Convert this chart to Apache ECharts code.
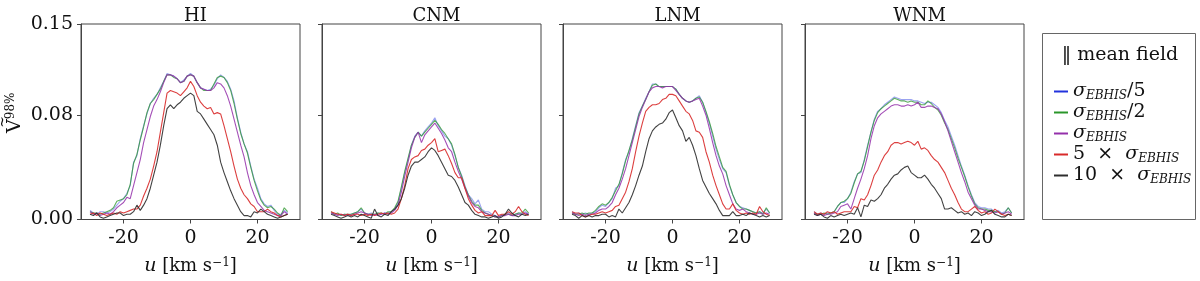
<!DOCTYPE html>
<html><head><meta charset="utf-8">
<script src="https://cdn.jsdelivr.net/npm/echarts@6/dist/echarts.min.js"></script>
<style>html,body{margin:0;padding:0;background:#fff}#c{width:1200px;height:281px}</style>
</head><body><div id="c"></div>
<script>
// ---- data ----
const velocities = [-30,-29,-28,-27,-26,-25,-24,-23,-22,-21,-20,-19,-18,-17,-16,-15,-14,-13,-12,-11,-10,-9,-8,-7,-6,-5,-4,-3,-2,-1,0,1,2,3,4,5,6,7,8,9,10,11,12,13,14,15,16,17,18,19,20,21,22,23,24,25,26,27,28,29];
const panelTitles = ['HI', 'CNM', 'LNM', 'WNM'];
const seriesNames = ['σEBHIS/5', 'σEBHIS/2', 'σEBHIS', '5 × σEBHIS', '10 × σEBHIS'];
const xTickValues = [-20, 0, 20];
const yTickValues = [0, 0.08, 0.15];
const legendTitle = '‖ mean field';

const hiSigma5  = [0.007,0.005,0.004,0.006,0.006,0.005,0.006,0.008,0.011,0.014,0.016,0.020,0.026,0.044,0.049,0.062,0.072,0.081,0.089,0.093,0.096,0.101,0.106,0.112,0.111,0.110,0.108,0.105,0.107,0.110,0.112,0.110,0.105,0.101,0.100,0.099,0.100,0.103,0.108,0.111,0.109,0.106,0.100,0.091,0.078,0.067,0.058,0.052,0.041,0.031,0.024,0.016,0.012,0.010,0.011,0.007,0.004,0.004,0.007,0.005];
const hiSigma2  = [0.006,0.005,0.005,0.004,0.005,0.006,0.007,0.009,0.014,0.015,0.016,0.019,0.027,0.043,0.050,0.061,0.071,0.082,0.089,0.092,0.096,0.100,0.106,0.111,0.111,0.109,0.108,0.105,0.106,0.110,0.111,0.110,0.105,0.101,0.099,0.099,0.099,0.104,0.109,0.110,0.109,0.105,0.099,0.089,0.077,0.066,0.058,0.051,0.040,0.030,0.022,0.015,0.011,0.009,0.010,0.008,0.005,0.003,0.009,0.006];
const hiSigma1  = [0.006,0.004,0.005,0.003,0.004,0.005,0.004,0.006,0.009,0.011,0.013,0.017,0.016,0.026,0.036,0.046,0.059,0.069,0.079,0.087,0.092,0.098,0.105,0.111,0.111,0.110,0.108,0.105,0.106,0.110,0.111,0.110,0.105,0.101,0.100,0.099,0.099,0.101,0.105,0.104,0.101,0.095,0.087,0.077,0.067,0.057,0.048,0.036,0.026,0.019,0.013,0.010,0.007,0.006,0.005,0.004,0.003,0.003,0.006,0.004];
const hiTimes5  = [0.004,0.005,0.003,0.005,0.004,0.003,0.004,0.005,0.004,0.006,0.005,0.006,0.007,0.008,0.008,0.011,0.018,0.024,0.031,0.041,0.052,0.067,0.082,0.097,0.099,0.098,0.097,0.095,0.098,0.101,0.106,0.102,0.095,0.090,0.087,0.085,0.086,0.081,0.082,0.081,0.072,0.062,0.052,0.041,0.031,0.024,0.019,0.016,0.012,0.010,0.006,0.006,0.006,0.008,0.006,0.005,0.003,0.002,0.003,0.004];
const hiTimes10 = [0.004,0.003,0.005,0.002,0.001,0.002,0.003,0.004,0.005,0.005,0.003,0.004,0.004,0.006,0.011,0.007,0.011,0.016,0.024,0.034,0.044,0.057,0.072,0.085,0.088,0.085,0.088,0.090,0.093,0.095,0.097,0.095,0.083,0.081,0.077,0.073,0.069,0.065,0.057,0.044,0.036,0.029,0.022,0.016,0.011,0.006,0.003,0.003,0.002,0.006,0.005,0.008,0.006,0.004,0.003,0.002,0.001,0.002,0.003,0.004];

const cnmSigma5  = [0.005,0.004,0.004,0.003,0.004,0.003,0.004,0.005,0.006,0.008,0.005,0.004,0.005,0.003,0.005,0.004,0.005,0.005,0.006,0.008,0.013,0.024,0.036,0.046,0.057,0.064,0.067,0.064,0.068,0.071,0.074,0.078,0.072,0.068,0.064,0.062,0.057,0.049,0.040,0.034,0.026,0.019,0.016,0.012,0.015,0.008,0.006,0.006,0.004,0.003,0.002,0.003,0.004,0.005,0.003,0.004,0.005,0.004,0.006,0.004];
const cnmSigma2  = [0.006,0.004,0.005,0.003,0.004,0.004,0.004,0.005,0.006,0.009,0.005,0.004,0.004,0.004,0.005,0.005,0.004,0.006,0.006,0.009,0.014,0.025,0.037,0.047,0.057,0.063,0.067,0.064,0.067,0.070,0.073,0.076,0.073,0.069,0.066,0.062,0.058,0.050,0.040,0.033,0.025,0.019,0.014,0.011,0.011,0.007,0.005,0.004,0.003,0.002,0.002,0.003,0.004,0.004,0.003,0.004,0.005,0.005,0.008,0.005];
const cnmSigma1  = [0.005,0.004,0.003,0.004,0.003,0.004,0.003,0.004,0.005,0.006,0.005,0.004,0.003,0.004,0.003,0.004,0.005,0.004,0.005,0.007,0.011,0.021,0.033,0.044,0.055,0.063,0.067,0.059,0.065,0.068,0.071,0.074,0.070,0.066,0.061,0.055,0.052,0.044,0.037,0.031,0.024,0.018,0.013,0.010,0.009,0.006,0.005,0.004,0.003,0.002,0.002,0.003,0.003,0.004,0.003,0.003,0.004,0.004,0.005,0.004];
const cnmTimes5  = [0.006,0.005,0.004,0.004,0.003,0.004,0.003,0.004,0.004,0.003,0.004,0.003,0.004,0.003,0.004,0.005,0.004,0.005,0.004,0.005,0.008,0.016,0.026,0.039,0.046,0.048,0.049,0.053,0.054,0.057,0.059,0.062,0.052,0.053,0.054,0.049,0.043,0.036,0.032,0.032,0.024,0.016,0.011,0.007,0.005,0.006,0.003,0.003,0.003,0.007,0.003,0.004,0.004,0.006,0.004,0.006,0.010,0.006,0.004,0.003];
const cnmTimes10 = [0.004,0.003,0.002,0.001,0.002,0.003,0.002,0.003,0.002,0.004,0.003,0.002,0.001,0.008,0.003,0.002,0.004,0.003,0.006,0.008,0.011,0.016,0.024,0.034,0.041,0.044,0.044,0.046,0.048,0.052,0.055,0.053,0.049,0.044,0.039,0.034,0.033,0.030,0.025,0.019,0.013,0.011,0.007,0.004,0.003,0.002,0.002,0.001,0.002,0.003,0.001,0.002,0.004,0.008,0.005,0.003,0.002,0.004,0.003,0.004];

const lnmSigma5  = [0.006,0.004,0.005,0.004,0.005,0.004,0.005,0.006,0.009,0.011,0.010,0.013,0.016,0.024,0.026,0.036,0.046,0.052,0.062,0.072,0.082,0.087,0.093,0.098,0.104,0.104,0.102,0.102,0.102,0.102,0.102,0.100,0.096,0.093,0.091,0.090,0.091,0.093,0.095,0.090,0.082,0.074,0.064,0.054,0.046,0.039,0.036,0.026,0.019,0.013,0.010,0.009,0.008,0.007,0.006,0.005,0.006,0.005,0.008,0.005];
const lnmSigma2  = [0.005,0.004,0.004,0.005,0.004,0.005,0.005,0.007,0.010,0.012,0.011,0.013,0.017,0.022,0.027,0.035,0.045,0.053,0.061,0.071,0.081,0.087,0.092,0.098,0.103,0.104,0.102,0.102,0.102,0.102,0.102,0.100,0.096,0.093,0.091,0.090,0.091,0.093,0.094,0.090,0.083,0.075,0.066,0.056,0.048,0.040,0.037,0.027,0.019,0.013,0.010,0.008,0.008,0.007,0.006,0.005,0.006,0.004,0.009,0.005];
const lnmSigma1  = [0.005,0.004,0.003,0.004,0.003,0.004,0.004,0.005,0.007,0.008,0.008,0.010,0.013,0.019,0.024,0.031,0.039,0.049,0.059,0.069,0.079,0.086,0.092,0.098,0.101,0.102,0.102,0.101,0.102,0.102,0.102,0.099,0.096,0.093,0.091,0.090,0.091,0.092,0.093,0.087,0.080,0.070,0.059,0.049,0.041,0.035,0.026,0.019,0.012,0.008,0.007,0.008,0.006,0.005,0.004,0.004,0.005,0.004,0.005,0.004];
const lnmTimes5  = [0.006,0.005,0.005,0.003,0.002,0.003,0.004,0.004,0.005,0.006,0.005,0.006,0.007,0.010,0.011,0.016,0.021,0.029,0.039,0.052,0.064,0.074,0.083,0.086,0.088,0.088,0.089,0.092,0.093,0.096,0.096,0.095,0.091,0.087,0.083,0.081,0.076,0.068,0.067,0.063,0.052,0.044,0.034,0.026,0.019,0.012,0.008,0.008,0.012,0.007,0.005,0.004,0.005,0.004,0.005,0.004,0.010,0.006,0.004,0.003];
const lnmTimes10 = [0.004,0.003,0.001,0.003,0.002,0.003,0.002,0.003,0.003,0.004,0.004,0.002,0.003,0.002,0.008,0.005,0.009,0.013,0.019,0.026,0.034,0.041,0.052,0.062,0.068,0.071,0.073,0.074,0.077,0.082,0.084,0.078,0.072,0.068,0.060,0.063,0.057,0.049,0.039,0.030,0.025,0.020,0.016,0.012,0.007,0.003,0.003,0.003,0.006,0.003,0.003,0.004,0.003,0.005,0.004,0.003,0.002,0.003,0.002,0.003];

const wnmSigma5  = [0.006,0.004,0.005,0.004,0.005,0.005,0.006,0.010,0.013,0.013,0.016,0.021,0.029,0.035,0.036,0.046,0.057,0.067,0.077,0.083,0.085,0.088,0.090,0.092,0.094,0.093,0.092,0.092,0.092,0.092,0.091,0.091,0.090,0.089,0.090,0.090,0.088,0.086,0.082,0.076,0.071,0.064,0.057,0.049,0.041,0.034,0.026,0.019,0.013,0.010,0.009,0.009,0.008,0.008,0.006,0.007,0.005,0.006,0.009,0.005];
const wnmSigma2  = [0.005,0.004,0.004,0.005,0.004,0.005,0.006,0.010,0.013,0.014,0.016,0.020,0.028,0.035,0.037,0.045,0.056,0.067,0.076,0.082,0.085,0.087,0.089,0.091,0.093,0.092,0.091,0.091,0.090,0.091,0.090,0.090,0.088,0.088,0.091,0.089,0.086,0.084,0.080,0.074,0.069,0.062,0.055,0.047,0.040,0.033,0.025,0.018,0.012,0.009,0.008,0.008,0.007,0.007,0.006,0.006,0.004,0.005,0.009,0.005];
const wnmSigma1  = [0.005,0.003,0.004,0.003,0.004,0.004,0.005,0.006,0.010,0.011,0.012,0.008,0.016,0.024,0.031,0.039,0.049,0.062,0.072,0.078,0.081,0.083,0.085,0.087,0.088,0.088,0.087,0.087,0.088,0.087,0.088,0.090,0.086,0.086,0.087,0.087,0.086,0.085,0.081,0.075,0.068,0.060,0.052,0.044,0.036,0.029,0.021,0.016,0.011,0.008,0.008,0.007,0.006,0.006,0.005,0.006,0.004,0.005,0.006,0.004];
const wnmTimes5  = [0.006,0.004,0.005,0.004,0.006,0.005,0.006,0.004,0.005,0.006,0.006,0.006,0.010,0.009,0.016,0.015,0.019,0.026,0.034,0.038,0.044,0.049,0.052,0.057,0.059,0.059,0.058,0.059,0.060,0.059,0.057,0.060,0.054,0.055,0.053,0.049,0.046,0.044,0.040,0.036,0.030,0.024,0.019,0.013,0.008,0.006,0.006,0.008,0.010,0.007,0.005,0.006,0.004,0.005,0.008,0.006,0.004,0.003,0.004,0.003];
const wnmTimes10 = [0.004,0.003,0.004,0.002,0.001,0.003,0.002,0.003,0.004,0.003,0.004,0.005,0.004,0.009,0.002,0.011,0.010,0.015,0.014,0.016,0.019,0.024,0.027,0.031,0.034,0.035,0.038,0.040,0.041,0.036,0.034,0.032,0.032,0.034,0.031,0.027,0.024,0.020,0.016,0.008,0.008,0.009,0.007,0.005,0.006,0.004,0.005,0.003,0.006,0.005,0.003,0.004,0.006,0.007,0.004,0.003,0.002,0.002,0.004,0.003];

const panelData = [
  [hiSigma5, hiSigma2, hiSigma1, hiTimes5, hiTimes10],
  [cnmSigma5, cnmSigma2, cnmSigma1, cnmTimes5, cnmTimes10],
  [lnmSigma5, lnmSigma2, lnmSigma1, lnmTimes5, lnmTimes10],
  [wnmSigma5, wnmSigma2, wnmSigma1, wnmTimes5, wnmTimes10]
];

// ---- style ----
const FONT = 'DejaVu Serif';
const seriesColors = ['#2233dd', '#2a962a', '#9430aa', '#d82a2a', '#2e2e2e'];
const lineOpacity = [0.45, 0.75, 0.85, 0.9, 0.9];
const legendLabels = {
  'σEBHIS/5': '{s|σ}{sub|EBHIS}{t|/5}',
  'σEBHIS/2': '{s|σ}{sub|EBHIS}{t|/2}',
  'σEBHIS': '{s|σ}{sub|EBHIS}',
  '5 × σEBHIS': '{t|5  ×  }{s|σ}{sub|EBHIS}',
  '10 × σEBHIS': '{t|10  ×  }{s|σ}{sub|EBHIS}'
};
const gridLefts = [81, 322, 563, 805];
const gridTop = 24, gridW = 219, gridH = 197;
const axisColor = '#444';
const textColor = '#111';

const grids = [], xAxes = [], yAxes = [], titles = [], series = [];
panelTitles.forEach((t, p) => {
  grids.push({ left: gridLefts[p], top: gridTop, width: gridW, height: gridH, show: true, borderColor: axisColor, borderWidth: 1, backgroundColor: 'transparent' });
  titles.push({ text: t, left: gridLefts[p] + gridW / 2, top: 2, textAlign: 'center',
    textStyle: { fontFamily: FONT, fontSize: 18, fontWeight: 'normal', color: textColor } });
  xAxes.push({
    type: 'value', gridIndex: p, min: -32.7, max: 32.7,
    axisLine: { show: true, onZero: false, lineStyle: { color: axisColor, width: 1 } },
    axisTick: { show: true, customValues: xTickValues, length: 4, lineStyle: { color: axisColor } },
    axisLabel: { customValues: xTickValues, fontFamily: FONT, fontSize: 19, color: textColor, margin: 9,
      formatter: v => String(v) },
    splitLine: { show: false },
    name: '{i|u} [km s{sup|−1}]', nameLocation: 'middle', nameGap: 37,
    nameTextStyle: { fontFamily: FONT, fontSize: 18, color: textColor,
      rich: { i: { fontFamily: FONT, fontSize: 19, fontStyle: 'italic', color: textColor },
              sup: { fontFamily: FONT, fontSize: 12, color: textColor, verticalAlign: 'top', padding: [0, 0, 8, 0] } } }
  });
  yAxes.push({
    type: 'value', gridIndex: p, min: 0, max: 0.15,
    axisLine: { show: true, onZero: false, lineStyle: { color: axisColor, width: 1 } },
    axisTick: { show: true, customValues: yTickValues, length: 4, lineStyle: { color: axisColor } },
    axisLabel: { show: p === 0, customValues: yTickValues, fontFamily: FONT, fontSize: 19, color: textColor, margin: 8,
      formatter: v => v.toFixed(2) },
    splitLine: { show: false },
    name: p === 0 ? '{v|V}{sup|98%}' : '', nameLocation: 'middle', nameGap: 55, nameRotate: 90,
    nameTextStyle: { fontFamily: FONT, fontSize: 19, color: textColor, padding: [0, 0, 0, 18],
      rich: { v: { fontFamily: FONT, fontSize: 19, color: textColor },
              sup: { fontFamily: FONT, fontSize: 12, color: textColor, verticalAlign: 'top', padding: [0, 0, 9, 0] } } }
  });
  panelData[p].forEach((arr, k) => {
    series.push({
      type: 'line', name: seriesNames[k], xAxisIndex: p, yAxisIndex: p,
      data: velocities.map((v, i) => [v, arr[i]]),
      showSymbol: false, symbol: 'none', silent: true,
      itemStyle: { color: seriesColors[k] },
      lineStyle: { width: 1.1, opacity: lineOpacity[k] },
      z: 2 + k
    });
  });
});

const chart = echarts.init(document.getElementById('c'), null, { renderer: 'canvas' });
chart.setOption({
  animation: false,
  backgroundColor: '#fff',
  title: titles,
  grid: grids, xAxis: xAxes, yAxis: yAxes, series: series,
  legend: {
    orient: 'vertical', left: 1049, top: 77, itemWidth: 14, itemHeight: 2, itemGap: 1,
    icon: 'rect', selectedMode: false,
    data: seriesNames.map(n => ({ name: n, icon: 'rect' })),
    formatter: n => legendLabels[n],
    textStyle: { fontFamily: FONT, fontSize: 19, color: textColor,
      rich: {
        s: { fontFamily: FONT, fontSize: 19, fontStyle: 'italic', color: textColor, lineHeight: 21 },
        t: { fontFamily: FONT, fontSize: 19, color: textColor, lineHeight: 21 },
        sub: { fontFamily: FONT, fontSize: 12, fontStyle: 'italic', color: textColor, verticalAlign: 'bottom', lineHeight: 15, padding: [6, 0, 0, 0] }
      } }
  },
  graphic: [
    { type: 'rect', shape: { x: 1042.5, y: 33.5, width: 153, height: 186 }, style: { fill: 'none', stroke: '#666', lineWidth: 1 }, silent: true },
    { type: 'text', x: 1120, y: 55, style: { text: legendTitle, font: '19px "DejaVu Serif"', fill: textColor, align: 'center', verticalAlign: 'middle' }, silent: true },
    { type: 'text', x: 3, y: 122, rotation: Math.PI / 2, style: { text: '~', font: '14px "DejaVu Serif"', fill: textColor, align: 'center', verticalAlign: 'middle' }, silent: true }
  ]
});
</script></body></html>
